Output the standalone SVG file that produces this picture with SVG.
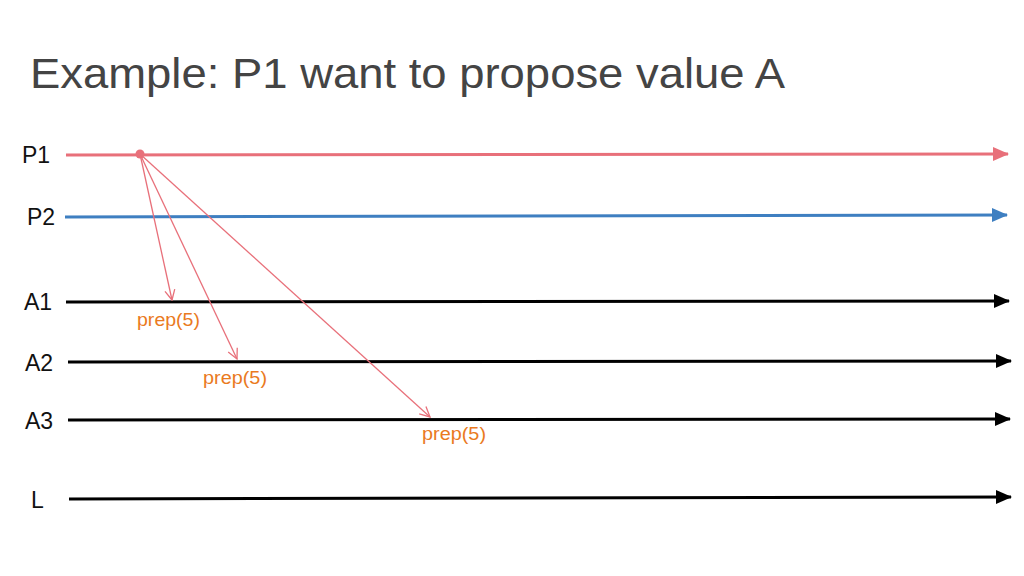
<svg xmlns="http://www.w3.org/2000/svg" width="1024" height="576" viewBox="0 0 1024 576">
<defs>
<style>
.lbl{font-family:"Liberation Sans",Arial,sans-serif;font-size:23px;fill:#111}
.msg{font-family:"Liberation Sans",Arial,sans-serif;font-size:18px;fill:#ea7a1e}
.title{font-family:"Liberation Sans",Arial,sans-serif;font-size:43px;fill:#444}
.tl{stroke-width:3;fill:none}
.m{stroke:#e8707a;stroke-width:1.3;fill:none}
</style>
<marker id="ak" markerWidth="16" markerHeight="16" viewBox="0 0 16 16" refX="15" refY="8" orient="auto" markerUnits="userSpaceOnUse"><path d="M0,1 L16,8 L0,15 Z" fill="#000"/></marker>
<marker id="ar" markerWidth="16" markerHeight="16" viewBox="0 0 16 16" refX="15" refY="8" orient="auto" markerUnits="userSpaceOnUse"><path d="M0,1 L16,8 L0,15 Z" fill="#e8707a"/></marker>
<marker id="ab" markerWidth="16" markerHeight="16" viewBox="0 0 16 16" refX="15" refY="8" orient="auto" markerUnits="userSpaceOnUse"><path d="M0,1 L16,8 L0,15 Z" fill="#3e7fc1"/></marker>
<marker id="av" markerWidth="12" markerHeight="12" viewBox="0 0 12 12" refX="11" refY="6" orient="auto" markerUnits="userSpaceOnUse"><path d="M1,1 L11,6 L1,11" fill="none" stroke="#e8707a" stroke-width="1.3"/></marker>
</defs>
<rect width="1024" height="576" fill="#fff"/>
<text class="title" x="30" y="88" textLength="755" lengthAdjust="spacingAndGlyphs">Example: P1 want to propose value A</text>
<g id="P1"><text class="lbl" x="22" y="163">P1</text><line class="tl" x1="66" y1="155" x2="1008" y2="154" stroke="#e8707a" marker-end="url(#ar)"/><circle cx="140" cy="154" r="4.5" fill="#e8707a"/></g>
<g id="P2"><text class="lbl" x="27" y="225">P2</text><line class="tl" x1="65" y1="217" x2="1007" y2="215" stroke="#3e7fc1" marker-end="url(#ab)"/></g>
<g id="A1"><text class="lbl" x="24" y="310">A1</text><line class="tl" x1="66" y1="302" x2="1009" y2="301" stroke="#000" marker-end="url(#ak)"/></g>
<g id="A2"><text class="lbl" x="25" y="371">A2</text><line class="tl" x1="68" y1="362" x2="1011" y2="361" stroke="#000" marker-end="url(#ak)"/></g>
<g id="A3"><text class="lbl" x="25" y="429">A3</text><line class="tl" x1="68" y1="420" x2="1010" y2="419" stroke="#000" marker-end="url(#ak)"/></g>
<g id="L"><text class="lbl" x="31" y="508">L</text><line class="tl" x1="69" y1="499" x2="1011" y2="497" stroke="#000" marker-end="url(#ak)"/></g>
<g id="connectors">
<line class="m" x1="140" y1="154" x2="172" y2="300" marker-end="url(#av)"/>
<line class="m" x1="140" y1="154" x2="237" y2="359" marker-end="url(#av)"/>
<line class="m" x1="140" y1="154" x2="430" y2="417" marker-end="url(#av)"/>
<text class="msg" x="137" y="326" textLength="63" lengthAdjust="spacingAndGlyphs">prep(5)</text>
<text class="msg" x="203" y="384" textLength="64" lengthAdjust="spacingAndGlyphs">prep(5)</text>
<text class="msg" x="422" y="440" textLength="64" lengthAdjust="spacingAndGlyphs">prep(5)</text>
</g>
</svg>
